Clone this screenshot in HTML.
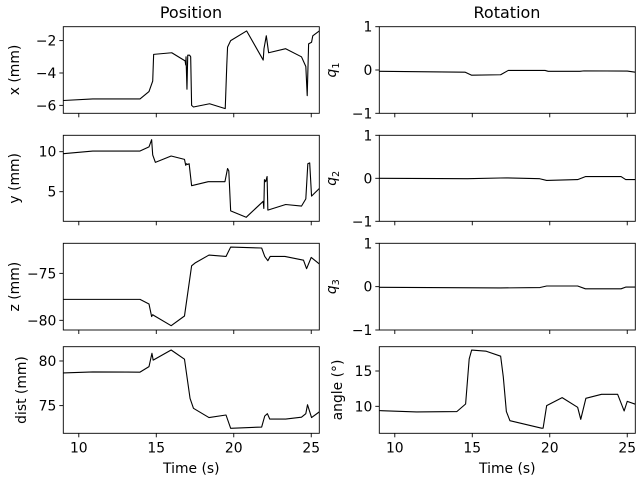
<!DOCTYPE html>
<html><head><meta charset="utf-8"><style>
body{margin:0;background:#fff;}
svg{display:block;font-family:"DejaVu Sans","Liberation Sans",sans-serif;}
</style></head><body>
<svg id="chart" width="640" height="480" viewBox="0 0 640 480" xmlns="http://www.w3.org/2000/svg">
<rect width="640" height="480" fill="#fff"/>
<text x="191" y="18" font-size="16" text-anchor="middle">Position</text>
<text x="507" y="18" font-size="16" text-anchor="middle">Rotation</text>
</svg>
<script>
const xT = [9,10.9,13.95,14.53,14.77,14.83,16.0,16.86,16.9,16.92,16.98,17.03,17.15,17.22,17.28,17.4,18.44,19.45,19.55,19.6,19.8,20.83,21.9,21.95,22.1,22.25,23.35,24.37,24.65,24.74,24.83,25.02,25.1,25.52];
const xV = [-5.7,-5.6,-5.6,-5.15,-4.5,-2.85,-2.75,-3.25,-3.5,-3.0,-5.0,-2.9,-2.9,-3.0,-6.0,-6.1,-5.9,-6.2,-3.5,-2.4,-2.0,-1.4,-3.2,-2.5,-1.7,-2.75,-2.5,-3.0,-3.6,-5.4,-2.2,-2.1,-1.7,-1.4];
const yT = [9,10.9,13.95,14.53,14.7,14.77,14.94,15.96,16.82,16.9,16.96,17.02,17.12,17.28,18.35,19.43,19.6,19.68,19.8,20.8,21.9,21.94,21.98,22.06,22.15,22.2,23.35,24.37,24.65,24.78,24.9,25.02,25.52];
const yV = [9.75,10.08,10.08,10.6,11.5,9.6,8.67,9.46,9.04,8.3,8.5,8.4,8.5,5.75,6.25,6.25,7.9,7.6,2.6,1.8,3.8,2.9,6.5,6.25,6.9,2.7,3.4,3.2,4.1,8.5,8.6,4.45,5.4];
const zT = [9,13.95,14.53,14.7,14.77,14.86,15.96,16.82,17.28,17.5,18.4,19.5,19.8,21.8,22.0,22.2,22.35,23.3,24.5,24.7,25.0,25.52];
const zV = [-77.77,-77.77,-78.26,-79.6,-79.4,-79.5,-80.57,-79.54,-74.2,-73.9,-73.05,-73.2,-72.2,-72.3,-73.2,-73.65,-73.2,-73.2,-73.6,-74.5,-73.3,-74.0];
const dT = [9,10.9,13.95,14.53,14.72,14.8,15.96,16.82,17.18,17.4,18.4,19.5,19.8,21.8,22.0,22.17,22.32,23.35,24.37,24.65,24.76,25.02,25.52];
const dV = [78.66,78.77,78.75,79.37,80.86,80.1,81.23,80.2,75.8,74.7,73.66,73.95,72.46,72.6,73.84,74.1,73.5,73.5,73.7,74.1,75.1,73.66,74.3];
const aT = [9,11.4,14.0,14.57,14.8,14.96,15.9,16.83,17.0,17.2,17.43,19.47,19.57,19.8,20.8,21.8,22.0,22.33,23.34,24.38,24.8,25.0,25.52];
const aV = [9.39,9.2,9.25,10.33,16.7,17.97,17.8,17.1,14.2,9.25,7.97,6.9,6.9,10.1,11.23,9.86,8.16,11.13,11.7,11.7,9.34,10.7,10.3];
const q1T = [9,14.53,14.96,16.83,17.32,19.7,19.9,21.95,22.2,25.0,25.52];
const q1V = [-0.03,-0.05,-0.12,-0.11,-0.01,-0.01,-0.03,-0.03,-0.02,-0.025,-0.05];
const q2T = [9,14.7,17.2,19.35,19.8,21.8,22.3,24.6,24.9,25.52];
const q2V = [0,-0.01,0.01,-0.01,-0.05,-0.03,0.04,0.04,-0.03,-0.03];
const q3T = [9,16.8,19.37,19.8,21.8,22.3,24.6,24.9,25.52];
const q3V = [-0.015,-0.03,-0.02,0.015,0.015,-0.05,-0.05,-0.01,-0.01];
const xTicks = [10,15,20,25];

const NS="http://www.w3.org/2000/svg";
const svg=document.getElementById('chart');
function el(tag,attrs,parent){const e=document.createElementNS(NS,tag);for(const k in attrs)e.setAttribute(k,attrs[k]);(parent||svg).appendChild(e);return e;}
const XMIN=9,XMAX=25.52;
const FS=13.9;
const panels=[
 {L:63.3,R:319.3,T:26.7,B:113.3,y0:-6.49,y1:-1.14,ticks:[-6,-4,-2],lab:'x (mm)',t:xT,v:xV,name:'x-panel',lx:19,bottom:false},
 {L:63.3,R:319.3,T:135.3,B:221.3,y0:1.3,y1:12.05,ticks:[5,10],lab:'y (mm)',t:yT,v:yV,name:'y-panel',lx:19,bottom:false},
 {L:63.3,R:319.3,T:243.3,B:330,y0:-81.03,y1:-71.8,ticks:[-80,-75],lab:'z (mm)',t:zT,v:zV,name:'z-panel',lx:19,bottom:false},
 {L:63.3,R:319.3,T:346.7,B:433.3,y0:71.9,y1:81.6,ticks:[75,80],lab:'dist (mm)',t:dT,v:dV,name:'dist-panel',lx:26,bottom:true},
 {L:379.3,R:635.3,T:26.7,B:113.3,y0:-1,y1:1,ticks:[-1,0,1],lab:'q1',t:q1T,v:q1V,name:'q1-panel',lx:336,bottom:false},
 {L:379.3,R:635.3,T:135.3,B:221.3,y0:-1,y1:1,ticks:[-1,0,1],lab:'q2',t:q2T,v:q2V,name:'q2-panel',lx:336,bottom:false},
 {L:379.3,R:635.3,T:243.3,B:330,y0:-1,y1:1,ticks:[-1,0,1],lab:'q3',t:q3T,v:q3V,name:'q3-panel',lx:336,bottom:false},
 {L:379.3,R:635.3,T:346.7,B:433.3,y0:6.18,y1:18.44,ticks:[10,15],lab:'angle (°)',t:aT,v:aV,name:'angle-panel',lx:342,bottom:true},
];
panels.forEach(p=>{
  const g=el('g',{});
  
  
  const sx=t=>p.L+(t-XMIN)/(XMAX-XMIN)*(p.R-p.L);
  const sy=v=>p.B-(v-p.y0)/(p.y1-p.y0)*(p.B-p.T);
  const d=p.t.map((t,i)=>(i?'L':'M')+sx(t).toFixed(2)+','+sy(p.v[i]).toFixed(2)).join(' ');
  const line=el('path',{d:d,fill:'none',stroke:'#000','stroke-width':1.1,'stroke-linejoin':'round'},g);
  
  
  const fr=el('rect',{x:p.L,y:p.T,width:p.R-p.L,height:p.B-p.T,fill:'none',stroke:'#000','stroke-width':0.9},g);
  
  
  xTicks.forEach(tk=>{
    const x=sx(tk);
    el('line',{x1:x,x2:x,y1:p.B,y2:p.B+4,stroke:'#000','stroke-width':0.9},g);
    if(p.bottom){
      const tl=el('text',{x:x,y:p.B+19,'font-size':FS,'text-anchor':'middle'},g);
      tl.textContent=tk;
      
      
    }
  });
  p.ticks.forEach(tk=>{
    const y=sy(tk);
    el('line',{x1:p.L-4,x2:p.L,y1:y,y2:y,stroke:'#000','stroke-width':0.9},g);
    const tl=el('text',{x:p.L-7,y:y+5,'font-size':FS,'text-anchor':'end'},g);
    tl.textContent=String(tk).replace('-','\u2212');
    
    
  });
  const cy=(p.T+p.B)/2;
  const yl=el('text',{x:p.lx,y:cy,'font-size':FS,'text-anchor':'middle',transform:`rotate(-90 ${p.lx} ${cy})`},g);
  
  
  if(p.lab[0]==='q'){
    const a=el('tspan',{'font-style':'italic'},yl);a.textContent='q';
    const b=el('tspan',{'font-size':9.7,dy:3},yl);b.textContent=p.lab[1];
  } else yl.textContent=p.lab;
  if(p.bottom){
    const xl=el('text',{x:(p.L+p.R)/2,y:473,'font-size':FS,'text-anchor':'middle'},g);
    xl.textContent='Time (s)';
    
    
  }
});
</script>
</body></html>
